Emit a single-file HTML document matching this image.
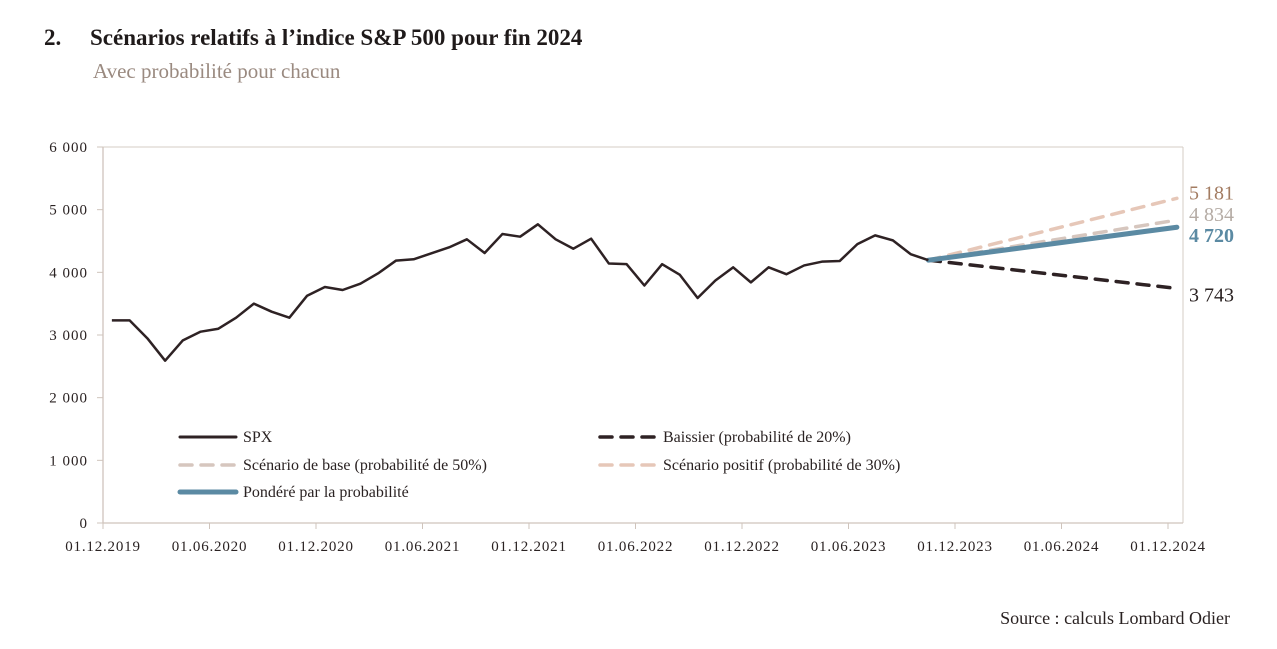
<!DOCTYPE html>
<html><head><meta charset="utf-8">
<style>
body{margin:0;background:#fff;width:1277px;height:649px;overflow:hidden;font-family:"Liberation Serif",serif;}
#title{position:absolute;left:44px;top:25px;font-size:23px;font-weight:bold;color:#1f1a1a;}
#title span{display:inline-block;width:46px;}
#sub{position:absolute;left:93px;top:59px;font-size:21px;color:#9a8a80;}
#src{position:absolute;right:47px;top:608px;font-size:18px;color:#2a2222;}
svg{position:absolute;left:0;top:0;}
</style></head><body>
<div id="title"><span>2.</span>Scénarios relatifs à l’indice S&amp;P 500 pour fin 2024</div>
<div id="sub">Avec probabilité pour chacun</div>
<div id="src">Source : calculs Lombard Odier</div>
<svg id="chart" width="1277" height="649"></svg>
<script>
const spx=[3234,3234,2947,2590,2915,3053,3100,3276,3500,3372,3276,3627,3766,3718,3819,3984,4186,4208,4303,4399,4527,4308,4611,4569,4766,4527,4377,4537,4140,4130,3790,4130,3960,3590,3870,4080,3840,4080,3970,4110,4170,4180,4450,4590,4510,4290,4194];
const yTicks=[0,1000,2000,3000,4000,5000,6000];
const yTickLabels=["0","1 000","2 000","3 000","4 000","5 000","6 000"];
const xTickLabels=["01.12.2019","01.06.2020","01.12.2020","01.06.2021","01.12.2021","01.06.2022","01.12.2022","01.06.2023","01.12.2023","01.06.2024","01.12.2024"];
const scenarioNames=["Baissier","Base","Positif","Pondéré"];
const scenarioEnd=[3743,4834,5181,4720];
const scenarioLabels=["3 743","4 834","5 181","4 720"];
const startIndex=46, endIndex=60;

const NS="http://www.w3.org/2000/svg";
const svg=document.getElementById('chart');
const L=103,R=1183,T=147,B=523;
const y=v=>B-(v/6000)*(B-T);
const xm=i=>L+(i+0.5)*17.75;
const xt=k=>L+k*106.5;
function el(t,a,p){const e=document.createElementNS(NS,t);for(const k in a)e.setAttribute(k,a[k]);(p||svg).appendChild(e);return e;}

el('line',{x1:L,y1:T,x2:R,y2:T,stroke:'#d6ccc5','stroke-width':1});
el('line',{x1:R,y1:T,x2:R,y2:B,stroke:'#d6ccc5','stroke-width':1});
const ax=el('line',{x1:L,y1:T,x2:L,y2:B,stroke:'#cfc4bc','stroke-width':1.3});

const bx=el('line',{x1:L,y1:B,x2:R,y2:B,stroke:'#cfc4bc','stroke-width':1.3});


yTicks.forEach((v,i)=>{
  el('line',{x1:L-6,y1:y(v),x2:L,y2:y(v),stroke:'#cfc4bc'});
  const t=el('text',{x:L-15,y:y(v)+5,'text-anchor':'end','font-size':15,fill:'#2a2222','letter-spacing':'1'});
  t.textContent=yTickLabels[i];
  
  
});
xTickLabels.forEach((s,k)=>{
  el('line',{x1:xt(k),y1:B,x2:xt(k),y2:B+6,stroke:'#cfc4bc'});
  const t=el('text',{x:xt(k),y:B+28,'text-anchor':'middle','font-size':15,fill:'#2a2222','letter-spacing':'0.8'});
  t.textContent=s;
  
  
});

const styles=[
 {stroke:'#2e2224',w:3.5,dash:'12 9',lc:'#2a2222'},
 {stroke:'#d6c6be',w:3.5,dash:'12 9',lc:'#b5aca5'},
 {stroke:'#e6c7b8',w:3.5,dash:'12 9',lc:'#a37c62'},
 {stroke:'#5b8aa3',w:5,dash:null,lc:'#5b8aa3'}];
const startV=spx[startIndex];
const order=[2,1,0,3];
order.forEach(i=>{
  const s=styles[i];
  const a={x1:xm(startIndex),y1:y(startV),x2:xm(endIndex),y2:y(scenarioEnd[i]),stroke:s.stroke,'stroke-width':s.w,'stroke-linecap':'round'};
  if(s.dash)a['stroke-dasharray']=s.dash;
  const ln=el('line',a);
  
  
});
const labOff=[13,1,1,15];
scenarioEnd.forEach((v,i)=>{
  const t=el('text',{x:1189,y:y(v)+labOff[i],'font-size':20,fill:styles[i].lc,'font-weight':i===3?'bold':'normal'});
  t.textContent=scenarioLabels[i];
  
  
});

const pts=spx.map((v,i)=>xm(i)+','+y(v)).join(' ');
const pl=el('polyline',{points:pts,fill:'none',stroke:'#2e2224','stroke-width':2.5,'stroke-linejoin':'round'});



const legend=[
 {x:180,y:437,t:'SPX',s:{stroke:'#2e2224',w:3,dash:null}},
 {x:600,y:437,t:'Baissier (probabilité de 20%)',s:styles[0]},
 {x:180,y:465,t:'Scénario de base (probabilité de 50%)',s:styles[1]},
 {x:600,y:465,t:'Scénario positif (probabilité de 30%)',s:styles[2]},
 {x:180,y:492,t:'Pondéré par la probabilité',s:styles[3]}];
legend.forEach(e=>{
  const g=el('g',{});
  
  
  const a={x1:e.x,y1:e.y,x2:e.x+56,y2:e.y,stroke:e.s.stroke,'stroke-width':e.s.w,'stroke-linecap':'round'};
  if(e.s.dash)a['stroke-dasharray']='12 9';
  el('line',a,g);
  const t=el('text',{x:e.x+63,y:e.y+5,'font-size':16,fill:'#2a2222'},g);
  t.textContent=e.t;
});
</script>
</body></html>
